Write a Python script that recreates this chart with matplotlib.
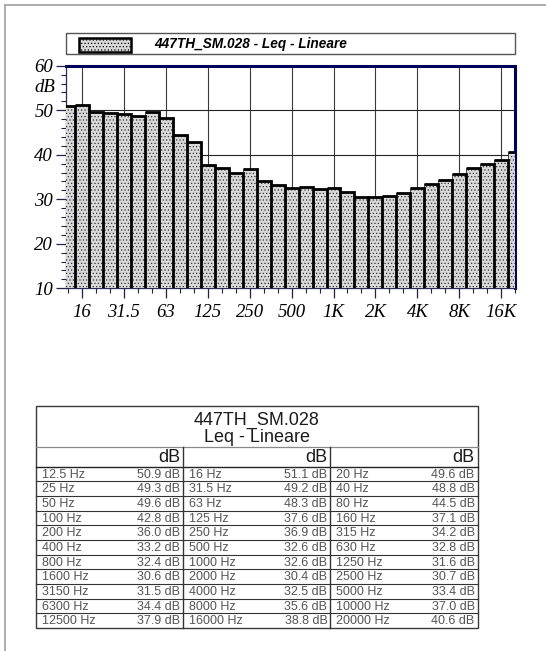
import matplotlib
matplotlib.use("Agg")
import matplotlib.pyplot as plt
from matplotlib.patches import Rectangle
from matplotlib.lines import Line2D
from matplotlib.transforms import blended_transform_factory
import numpy as np

# ---------------- data ----------------
bands = ['12.5', '16', '20', '25', '31.5', '40', '50', '63', '80', '100', '125',
         '160', '200', '250', '315', '400', '500', '630', '800', '1000', '1250',
         '1600', '2000', '2500', '3150', '4000', '5000', '6300', '8000', '10000',
         '12500', '16000', '20000']
leq = [50.9, 51.1, 49.6, 49.3, 49.2, 48.8, 49.6, 48.3, 44.5, 42.8, 37.6,
       37.1, 36.0, 36.9, 34.2, 33.2, 32.6, 32.8, 32.4, 32.6, 31.6,
       30.6, 30.4, 30.7, 31.5, 32.5, 33.4, 34.4, 35.6, 37.0,
       37.9, 38.8, 40.6]
xtick_labels = ['16', '31.5', '63', '125', '250', '500', '1K', '2K', '4K', '8K', '16K']
ytick_values = [10, 20, 30, 40, 50, 60]
title = "447TH_SM.028 - Leq - Lineare"
table_title = ["447TH_SM.028", "Leq - Lineare"]

W, H = 546, 651
fig = plt.figure(figsize=(W / 100, H / 100), dpi=100)
fig.patch.set_facecolor('white')

def fx(x):
    return x / W

def fy(y):
    return 1 - y / H

plt.rcParams['hatch.color'] = '#b0b0b0'
plt.rcParams['hatch.linewidth'] = 0.5

SERIF = ['Liberation Serif', 'DejaVu Serif']
SANS = ['Liberation Sans', 'DejaVu Sans']
FILL = '#d9d9d9'

# outer page frame
fig.add_artist(Line2D([fx(5), fx(5)], [fy(5), fy(651)], color='#a0a0a0', lw=1.2))
fig.add_artist(Line2D([fx(5), fx(546)], [fy(5), fy(5)], color='#a0a0a0', lw=1.2))

# ---------------- chart ----------------
L, R, T, B = 65.7, 515.3, 65.7, 288.3
ax = fig.add_axes([fx(L), fy(B), fx(R) - fx(L), fy(T) - fy(B)])
x = np.arange(len(leq))
ax.bar(x, leq, width=1.0, bottom=0, facecolor=FILL, edgecolor='#333333',
       linewidth=0.6, hatch='.....', zorder=3)
for xi, v in zip(x, leq):
    ax.plot([xi - 0.5, xi + 0.5, xi + 0.5], [v, v, 0], color='black', lw=2.0,
            solid_joinstyle='miter', solid_capstyle='butt', zorder=4)

ax.set_xlim(-0.15, len(leq) - 1)
ax.set_ylim(10, 60)

major_idx = [bands.index(b) for b in ['16', '31.5', '63', '125', '250', '500', '1000',
                                      '2000', '4000', '8000', '16000']]
ax.set_xticks(major_idx)
ax.set_xticklabels(xtick_labels, fontfamily=SERIF, fontstyle='italic', fontsize=13.5)
ax.set_xticks(x, minor=True)
ax.set_yticks(ytick_values)
ax.set_yticklabels([str(v) for v in ytick_values], fontfamily=SERIF,
                   fontstyle='italic', fontsize=13.5)
ax.set_yticks(np.arange(10, 61, 2), minor=True)
ax.tick_params(axis='both', which='major', length=7, width=0.9, color='#222244', pad=2)
ax.tick_params(axis='both', which='minor', length=3.5, width=0.8, color='#222244')
ax.tick_params(axis='x', which='major', pad=4)

trans = blended_transform_factory(ax.transAxes, ax.transData)
ax.text(-0.022, 55, 'dB', transform=trans, ha='right', va='center',
        fontfamily=SERIF, fontstyle='italic', fontsize=13.5)

for xi in major_idx:
    ax.axvline(xi, color='#3a3a3a', lw=0.8, zorder=1)
for yv in [20, 30, 40, 50]:
    ax.axhline(yv, color='#222222', lw=0.8, zorder=1)

for s in ['top', 'right']:
    ax.spines[s].set_color('#00005a')
    ax.spines[s].set_linewidth(2.2)
for s in ['left', 'bottom']:
    ax.spines[s].set_color('#2a2a5a')
    ax.spines[s].set_linewidth(0.9)
ax.set_axisbelow(False)

# ---------------- legend box ----------------
fig.add_artist(Rectangle((fx(66), fy(54)), fx(515) - fx(66), fy(33.3) - fy(54),
                         transform=fig.transFigure, facecolor='white',
                         edgecolor='#555555', lw=1.0))
fig.add_artist(Rectangle((fx(79), fy(51.5)), fx(131) - fx(79), fy(37.5) - fy(51.5),
                         transform=fig.transFigure, facecolor=FILL, hatch='.....',
                         edgecolor='black', lw=1.8))
fig.text(fx(154), fy(43.8), title, ha='left', va='center', fontfamily=SANS,
         fontweight='bold', fontstyle='italic', fontsize=9.8)

# ---------------- table ----------------
TL, TR, TT, TB = 36, 477.7, 406, 628
tax = fig.add_axes([fx(TL), fy(TB), fx(TR) - fx(TL), fy(TT) - fy(TB)])
tax.set_xlim(TL, TR)
tax.set_ylim(TB, TT)
tax.axis('off')

title_bottom, header_bottom = 446.7, 466.7
ncols = 3
nrows = int(np.ceil(len(bands) / ncols))
col_w = (TR - TL) / ncols
row_h = (TB - header_bottom) / nrows

# border
tax.add_patch(Rectangle((TL, TT), TR - TL, TB - TT, facecolor='none',
                        edgecolor='#3a3a3a', lw=1.0, clip_on=False))
tax.plot([TL, TR], [title_bottom, title_bottom], color='#8a8a8a', lw=0.9, clip_on=False)
tax.plot([TL, TR], [header_bottom, header_bottom], color='#222222', lw=1.0, clip_on=False)
for c in range(1, ncols):
    xc = TL + c * col_w
    tax.plot([xc, xc], [title_bottom, TB], color='#333333', lw=1.0, clip_on=False)
for r in range(1, nrows):
    yr = header_bottom + r * row_h
    tax.plot([TL, TR], [yr, yr], color='#333333', lw=0.8, clip_on=False)

tax.text((TL + TR) / 2, 420.5, table_title[0], ha='center', va='center',
         fontfamily=SANS, fontsize=13, color='#1a1a1a')
tax.text((TL + TR) / 2, 437, table_title[1], ha='center', va='center',
         fontfamily=SANS, fontsize=13, color='#1a1a1a')
for c in range(ncols):
    tax.text(TL + (c + 1) * col_w - 3, (title_bottom + header_bottom) / 2 + 0.5, 'dB',
             ha='right', va='center', fontfamily=SANS, fontsize=13, color='#1a1a1a')

for i, (b, v) in enumerate(zip(bands, leq)):
    r, c = divmod(i, ncols)
    yc = header_bottom + (r + 0.5) * row_h + 0.5
    tax.text(TL + c * col_w + 6, yc, f"{b} Hz", ha='left', va='center',
             fontfamily=SANS, fontsize=9, color='#555555')
    tax.text(TL + (c + 1) * col_w - 3, yc, f"{v:.1f} dB", ha='right', va='center',
             fontfamily=SANS, fontsize=9, color='#555555')

fig.savefig('out.png', dpi=100)
